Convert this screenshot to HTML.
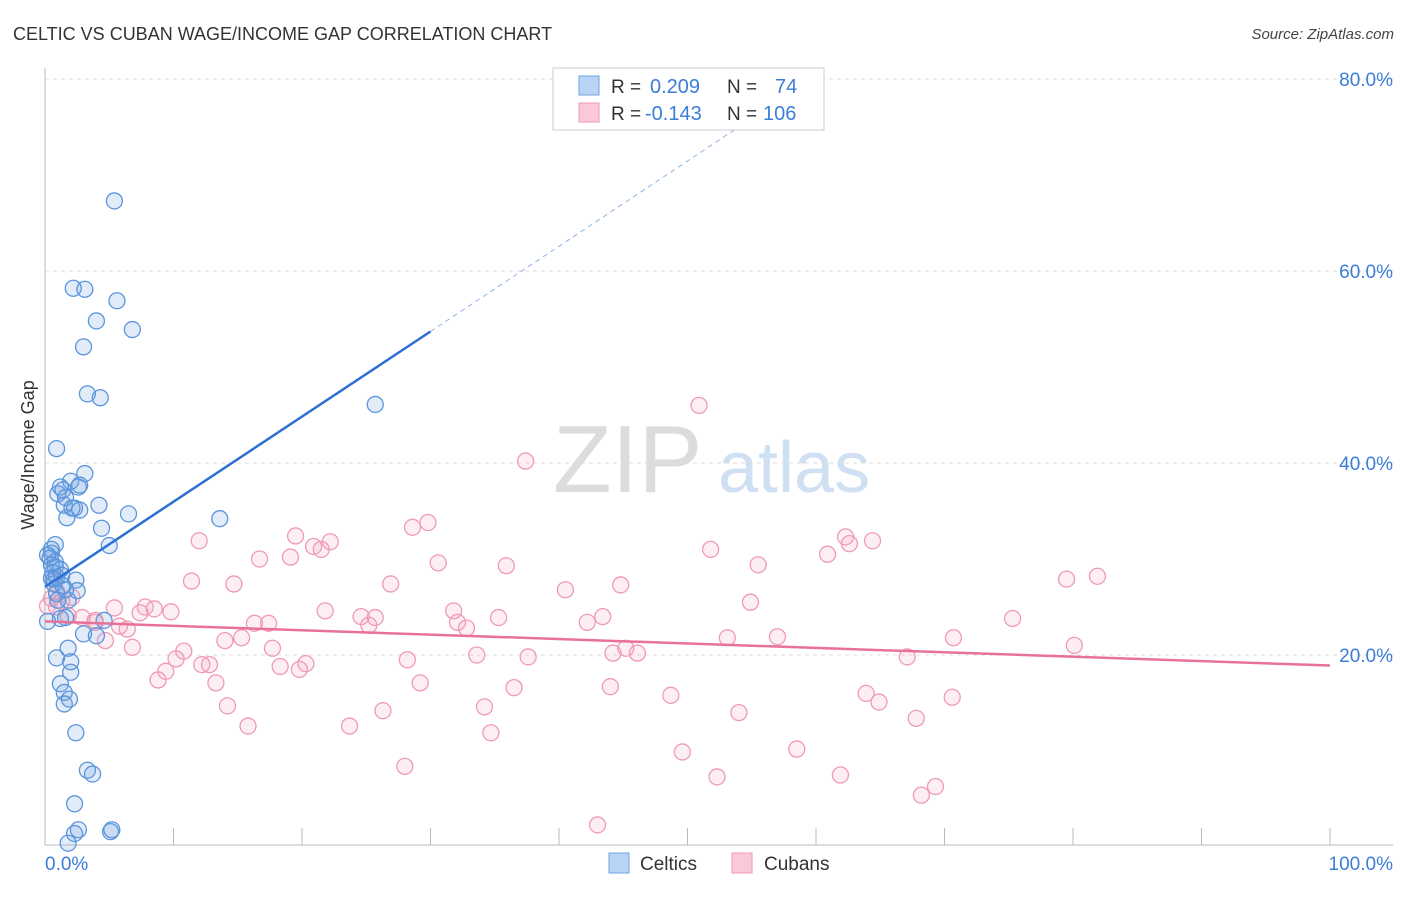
<!DOCTYPE html>
<html><head><meta charset="utf-8">
<style>
body{margin:0;background:#fff;font-family:"Liberation Sans",sans-serif;}
svg text{font-family:"Liberation Sans",sans-serif;}
</style></head>
<body>
<svg id="chart" width="1406" height="892" viewBox="0 0 1406 892" xmlns="http://www.w3.org/2000/svg">
<text x="13" y="40" font-size="18" fill="#333">CELTIC VS CUBAN WAGE/INCOME GAP CORRELATION CHART</text>
<text x="1394" y="39" font-size="15" fill="#444" font-style="italic" text-anchor="end">Source: ZipAtlas.com</text>
<g>
<text x="553" y="492" font-size="96" fill="#dcdcdc" font-family="Liberation Serif,serif">ZIP</text>
<text x="718" y="492" font-size="72" fill="#cfe0f3">atlas</text>
</g>
<text transform="translate(34,455) rotate(-90)" font-size="18" fill="#333" text-anchor="middle">Wage/Income Gap</text>
<g id="grid"></g>
<g id="axes"></g>
<g id="pts"></g>
<g id="trends"></g>
<g>
<rect x="553" y="68" width="271" height="62" fill="#fff" stroke="#ccc"/>
<rect x="579" y="76" width="20" height="19" fill="#b8d3f3" stroke="#6fa3e0"/>
<rect x="579" y="103" width="20" height="19" fill="#f9c9d7" stroke="#ee9ab4"/>
<text x="611" y="93" font-size="19" fill="#333">R = </text><text x="650" y="93" font-size="20" fill="#3b7dd8">0.209</text>
<text x="727" y="93" font-size="19" fill="#333">N = </text><text x="775" y="93" font-size="20" fill="#3b7dd8">74</text>
<text x="611" y="120" font-size="19" fill="#333">R = </text><text x="645" y="120" font-size="20" fill="#3b7dd8">-0.143</text>
<text x="727" y="120" font-size="19" fill="#333">N = </text><text x="763" y="120" font-size="20" fill="#3b7dd8">106</text>
</g>
<g>
<rect x="609" y="853" width="20" height="20" fill="#b8d3f3" stroke="#6fa3e0"/>
<text x="640" y="870" font-size="19" fill="#333">Celtics</text>
<rect x="732" y="853" width="20" height="20" fill="#f9c9d7" stroke="#ee9ab4"/>
<text x="764" y="870" font-size="19" fill="#333">Cubans</text>
</g>
</svg>
<script>
const yTicks=[20,40,60,80];
const yTickLabels=["20.0%","40.0%","60.0%","80.0%"];
const xTickVals=[0,10,20,30,40,50,60,70,80,90,100];
const xEndLabels=["0.0%","100.0%"];
const celticsX=[5.4,2.2,3.1,5.6,4.0,6.8,3.0,3.3,4.3,25.7,0.9,3.1,2.0,1.2,1.0,2.6,1.6,1.5,2.3,2.7,4.2,1.7,6.5,13.6,4.4,5.0,0.8,0.5,0.5,0.4,0.8,0.8,1.2,0.6,0.5,2.4,0.7,1.4,2.5,0.9,1.8,1.2,1.6,4.6,0.2,3.0,4.0,1.8,0.9,2.0,2.0,1.2,1.5,1.9,1.5,2.4,3.3,3.7,2.3,2.6,2.3,5.1,5.2,1.8,0.7,1.0,1.6,0.2,0.5,0.9,1.3,1.4,2.1,2.7];
const celticsY=[67.3,58.2,58.1,56.9,54.8,53.9,52.1,47.2,46.8,46.1,41.5,38.9,38.1,37.5,36.8,37.5,36.4,35.6,35.3,35.1,35.6,34.3,34.7,34.2,33.2,31.4,31.5,31.0,30.6,30.1,29.7,29.2,28.9,28.6,28.0,27.8,27.4,27.2,26.7,26.4,25.7,23.8,23.9,23.6,23.5,22.2,22.0,20.7,19.7,19.3,18.2,17.0,16.1,15.4,14.9,11.9,8.0,7.6,4.5,1.8,1.4,1.6,1.8,0.4,27.9,25.7,26.8,30.4,29.4,28.1,28.3,37.2,35.3,37.7];
const cubansX=[50.9,37.4,29.8,28.6,19.5,12.0,22.2,20.9,21.5,51.8,62.3,64.4,62.6,60.9,16.7,19.1,30.6,35.9,55.5,81.9,79.5,11.4,14.7,26.9,44.8,40.5,0.9,0.5,2.1,0.9,54.9,5.4,7.8,8.5,9.8,7.4,31.8,35.3,24.6,25.7,43.4,75.3,42.2,32.1,16.3,17.4,32.8,3.9,2.9,5.8,6.4,21.8,25.2,4.7,6.8,14.0,15.3,10.8,17.7,53.1,57.0,70.7,80.1,45.2,44.2,46.1,10.2,12.2,12.8,20.3,28.2,33.6,37.6,67.1,18.3,19.8,9.4,8.8,13.3,29.2,36.5,44.0,48.7,63.9,64.9,70.6,14.2,26.3,34.2,54.0,67.8,23.7,15.8,34.7,49.6,58.5,28.0,52.3,61.9,69.3,68.2,43.0,1.3,0.2,1.8,3.9];
const cubansY=[46.0,40.2,33.8,33.3,32.4,31.9,31.8,31.3,31.0,31.0,32.3,31.9,31.6,30.5,30.0,30.2,29.6,29.3,29.4,28.2,27.9,27.7,27.4,27.4,27.3,26.8,26.6,25.9,26.0,25.0,25.5,24.9,25.0,24.8,24.5,24.4,24.6,23.9,24.0,23.9,24.0,23.8,23.4,23.4,23.3,23.3,22.8,23.4,23.9,23.0,22.7,24.6,23.1,21.5,20.8,21.5,21.8,20.4,20.7,21.8,21.9,21.8,21.0,20.7,20.2,20.2,19.6,19.0,19.0,19.1,19.5,20.0,19.8,19.8,18.8,18.5,18.3,17.4,17.1,17.1,16.6,16.7,15.8,16.0,15.1,15.6,14.7,14.2,14.6,14.0,13.4,12.6,12.6,11.9,9.9,10.2,8.4,7.3,7.5,6.3,5.4,2.3,25.6,25.1,24.1,23.6];
const celticsTrend=[[0,27.1],[30,53.7],[60.3,80.6]];
const cubansTrend=[[0,23.5],[100,18.9]];

const NS="http://www.w3.org/2000/svg";
const X=v=>45+v*12.85;
const Y=v=>847-v*9.6;
function mk(tag,attrs,parent){const e=document.createElementNS(NS,tag);for(const k in attrs)e.setAttribute(k,attrs[k]);parent.appendChild(e);return e;}
const grid=document.getElementById('grid'),axes=document.getElementById('axes'),pts=document.getElementById('pts'),tr=document.getElementById('trends');
yTicks.forEach((t,i)=>{
 const l=mk('line',{x1:45,x2:1393,y1:Y(t),y2:Y(t),stroke:'#ddd','stroke-dasharray':'4,4'},grid);
 
 
 const tx=mk('text',{x:1393,y:Y(t)+7,'font-size':19,fill:'#3b7dd8','text-anchor':'end'},axes);
 tx.textContent=yTickLabels[i];
 
 
});
const yl=mk('line',{x1:45,x2:45,y1:68,y2:845,stroke:'#bbb'},axes);


const xl=mk('line',{x1:45,x2:1393,y1:845,y2:845,stroke:'#bbb'},axes);


xTickVals.forEach(t=>{
 const l=mk('line',{x1:X(t),x2:X(t),y1:828,y2:845,stroke:'#bbb'},axes);
 
 
});
const xa=mk('text',{x:45,y:870,'font-size':19,fill:'#3b7dd8'},axes);xa.textContent=xEndLabels[0];


const xb=mk('text',{x:1393,y:870,'font-size':19,fill:'#3b7dd8','text-anchor':'end'},axes);xb.textContent=xEndLabels[1];


cubansX.forEach((x,i)=>{
 const c=mk('circle',{cx:X(x),cy:Y(cubansY[i]),r:8,fill:'rgba(244,160,186,0.18)',stroke:'#f09ab5','stroke-width':1.3},pts);
 
 
});
celticsX.forEach((x,i)=>{
 const c=mk('circle',{cx:X(x),cy:Y(celticsY[i]),r:8,fill:'rgba(110,160,225,0.2)',stroke:'#5b95dc','stroke-width':1.3},pts);
 
 
});
const b1=mk('line',{x1:X(celticsTrend[0][0]),y1:Y(celticsTrend[0][1]),x2:X(celticsTrend[1][0]),y2:Y(celticsTrend[1][1]),stroke:'#2e6fd6','stroke-width':2.5},tr);


const b2=mk('line',{x1:X(celticsTrend[1][0]),y1:Y(celticsTrend[1][1]),x2:X(celticsTrend[2][0]),y2:Y(celticsTrend[2][1]),stroke:'#8fb3e6','stroke-width':1,'stroke-dasharray':'5,4'},tr);


const p1=mk('line',{x1:X(cubansTrend[0][0]),y1:Y(cubansTrend[0][1]),x2:X(cubansTrend[1][0]),y2:Y(cubansTrend[1][1]),stroke:'#e8719a','stroke-width':2.5},tr);


</script>
</body></html>
